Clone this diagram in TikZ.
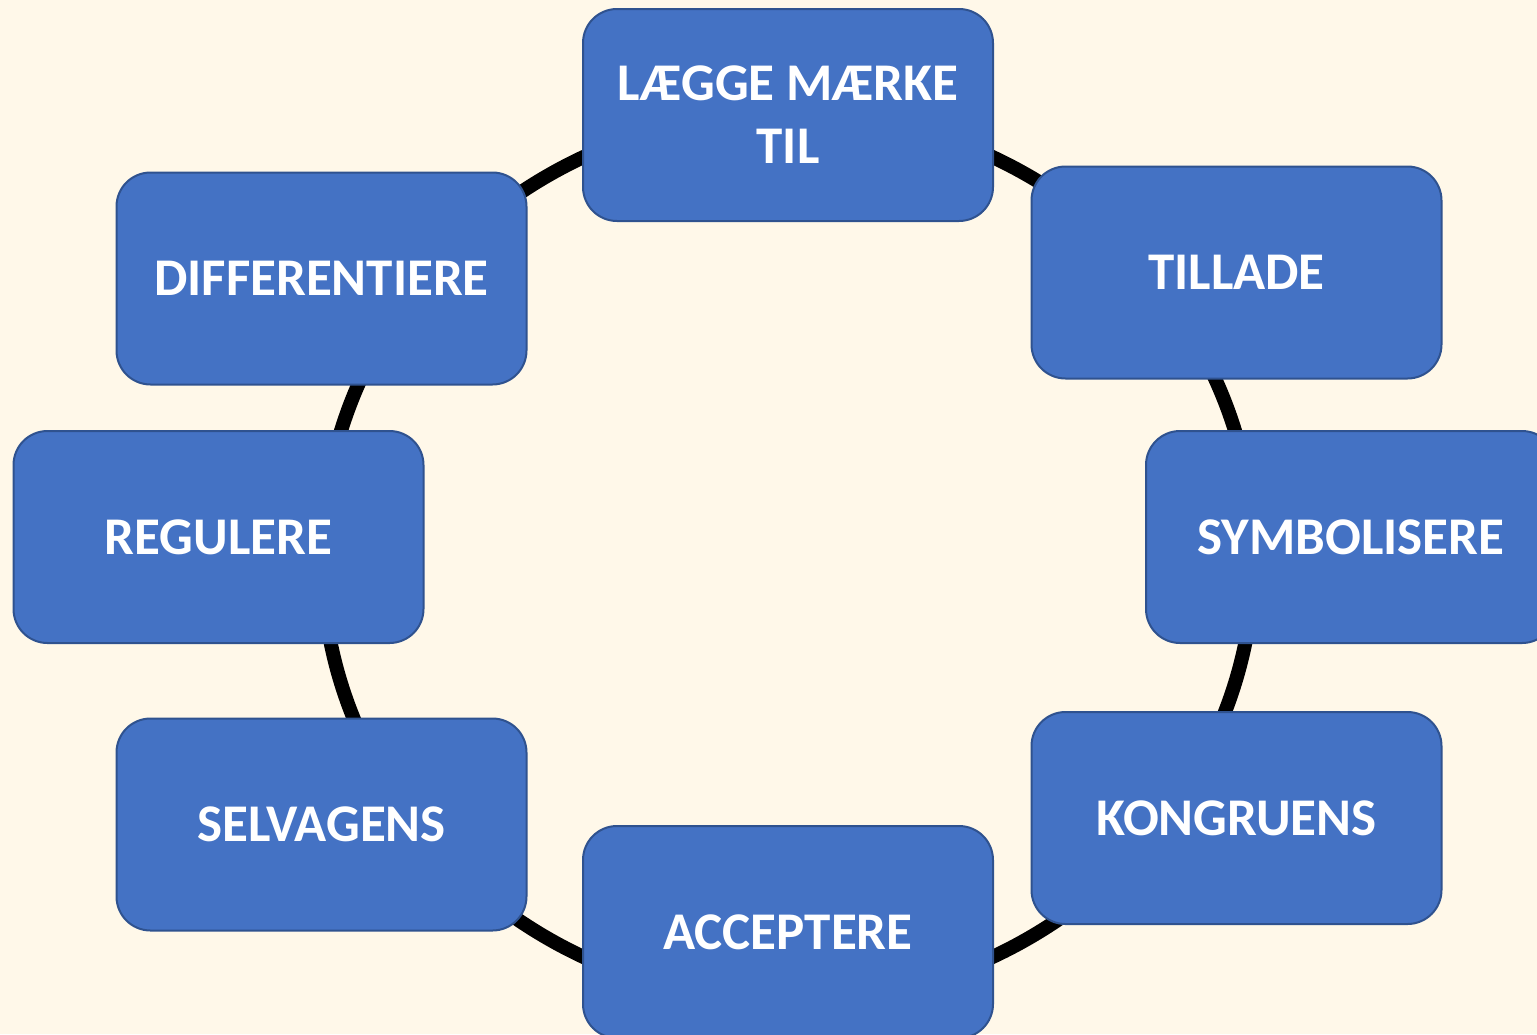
\documentclass[tikz,border=0pt]{standalone}
\usepackage{fontspec}
\setmainfont{Carlito}
\definecolor{bgcol}{HTML}{FFF8E9}
\definecolor{boxfill}{HTML}{4472C4}
\definecolor{boxline}{HTML}{2F528F}
\begin{document}
\begin{tikzpicture}[x=0.5pt,y=-0.5pt,
  stepbox/.style={draw=boxline, fill=boxfill, line width=1pt, rounded corners=17pt,
    minimum width=205pt, minimum height=106pt, inner sep=0pt, align=center,
    text=white, font=\bfseries\fontsize{26.5}{31.5}\selectfont}]
\fill[bgcol] (0,0) rectangle (1537,1034);
\useasboundingbox (0,0) rectangle (1537,1034);
\clip (0,0) rectangle (1537,1034);
\coordinate (ringc) at (788,557);
\draw[line width=7pt] (ringc) ellipse [x radius=233pt, y radius=222.5pt];
\node[stepbox] (n1) at (788,115) {LÆGGE MÆRKE\\TIL};
\node[stepbox] (n2) at (1236.5,272.5) {TILLADE};
\node[stepbox] (n3) at (1351,537) {SYMBOLISERE};
\node[stepbox] (n4) at (1236.5,818) {KONGRUENS};
\node[stepbox] (n5) at (788,932) {ACCEPTERE};
\node[stepbox] (n6) at (321.5,824.5) {SELVAGENS};
\node[stepbox] (n7) at (218.5,537) {REGULERE};
\node[stepbox] (n8) at (321.5,278.5) {DIFFERENTIERE};
\end{tikzpicture}
\end{document}
